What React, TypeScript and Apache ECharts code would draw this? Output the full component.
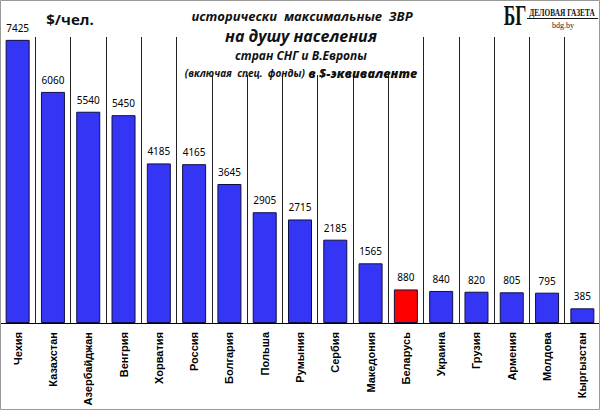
import React, { useEffect, useRef } from "react";
import * as echarts from "echarts";

const categories = [
  "Чехия", "Казахстан", "Азербайджан", "Венгрия", "Хорватия", "Россия",
  "Болгария", "Польша", "Румыния", "Сербия", "Македония", "Беларусь",
  "Украина", "Грузия", "Армения", "Молдова", "Кыргызстан",
];
const values = [7425, 6060, 5540, 5450, 4185, 4165, 3645, 2905, 2715, 2185, 1565, 880, 840, 820, 805, 795, 385];
const highlighted = ["Беларусь"];

const titleLines = ["исторически  максимальные  ЗВР", "на душу населения", "стран СНГ и В.Европы"];
const unitLabel = "$/чел.";

export default function App() {
  const ref = useRef<HTMLDivElement>(null);
  useEffect(() => {
    document.body.style.margin = "0";
    const chart = echarts.init(ref.current!, null, { renderer: "svg" });
    const titleFont = '"Open Sans", "Noto Sans", sans-serif';
    chart.setOption({
      animation: false,
      backgroundColor: "#fff",
      grid: { left: 0, right: 0, top: 37, bottom: 87, containLabel: false },
      xAxis: {
        type: "category",
        data: categories,
        axisLine: { lineStyle: { color: "#000", width: 1 } },
        axisTick: { show: false },
        splitLine: { show: true, interval: 0, lineStyle: { color: "#222", width: 1 } },
        axisLabel: {
          interval: 0,
          rotate: 90,
          margin: 9,
          color: "#000",
          fontFamily: '"Liberation Sans", Arial, sans-serif',
          fontWeight: "bold",
          fontSize: 11,
        },
      },
      yAxis: {
        type: "value",
        min: 0,
        max: 7500,
        show: false,
        splitLine: { show: false },
      },
      series: [
        {
          type: "bar",
          barWidth: 24,
          data: values.map((v, i) => ({
            value: v,
            itemStyle: {
              color: highlighted.includes(categories[i]) ? "#ff0000" : "#3535f5",
              borderColor: "#101040",
              borderWidth: 1,
            },
          })),
          label: {
            show: true,
            position: "top",
            distance: 7,
            color: "#000",
            fontFamily: '"Noto Sans", sans-serif',
            fontSize: 10,
          },
        },
      ],
      graphic: [
        { type: "rect", z: 50, shape: { x: 186, y: 1, width: 232, height: 74 }, style: { fill: "#fff" } },
        {
          type: "text", z: 51, x: 302, y: 16,
          style: { text: titleLines[0], fill: "#111", font: `italic bold 13px ${titleFont}`, align: "center", verticalAlign: "middle" },
        },
        {
          type: "text", z: 51, x: 301, y: 36,
          style: { text: titleLines[1], fill: "#111", font: `italic bold 16px ${titleFont}`, align: "center", verticalAlign: "middle" },
        },
        {
          type: "text", z: 51, x: 301, y: 55,
          style: { text: titleLines[2], fill: "#111", font: `italic bold 12px ${titleFont}`, align: "center", verticalAlign: "middle" },
        },
        {
          type: "text", z: 51, x: 301, y: 73,
          style: {
            text: "{a|(включая  спец.  фонды)} {b|в $-эквиваленте}",
            align: "center", verticalAlign: "middle",
            rich: {
              a: { fill: "#111", font: `italic bold 10px ${titleFont}` },
              b: { fill: "#111", font: `italic 800 12.5px ${titleFont}` },
            },
          },
        },
        {
          type: "text", z: 51, x: 70, y: 19,
          style: { text: unitLabel, fill: "#111", font: `bold 15px ${titleFont}`, align: "center", verticalAlign: "middle" },
        },
        {
          type: "text", z: 51, x: 515, y: 15, scaleX: 0.6,
          style: { text: "БГ", fill: "#111", font: 'bold 29px "Liberation Serif", serif', align: "center", verticalAlign: "middle" },
        },
        {
          type: "text", z: 51, x: 562, y: 12.5, scaleX: 0.7,
          style: { text: "ДЕЛОВАЯ ГАЗЕТА", fill: "#111", font: 'bold 10.5px "Liberation Serif", serif', align: "center", verticalAlign: "middle" },
        },
        { type: "line", z: 51, shape: { x1: 527, y1: 18.5, x2: 598, y2: 18.5 }, style: { stroke: "#111", lineWidth: 1 } },
        {
          type: "text", z: 51, x: 563, y: 25,
          style: { text: "bdg.by", fill: "#222", font: '8px "Liberation Serif", serif', align: "center", verticalAlign: "middle" },
        },
        {
          type: "rect", z: 60,
          shape: { x: 0.5, y: 0.5, width: 599, height: 409 },
          style: { fill: "none", stroke: "#999", lineWidth: 1 },
        },
      ],
    });
    return () => chart.dispose();
  }, []);
  return <div ref={ref} style={{ width: 600, height: 410 }} />;
}
